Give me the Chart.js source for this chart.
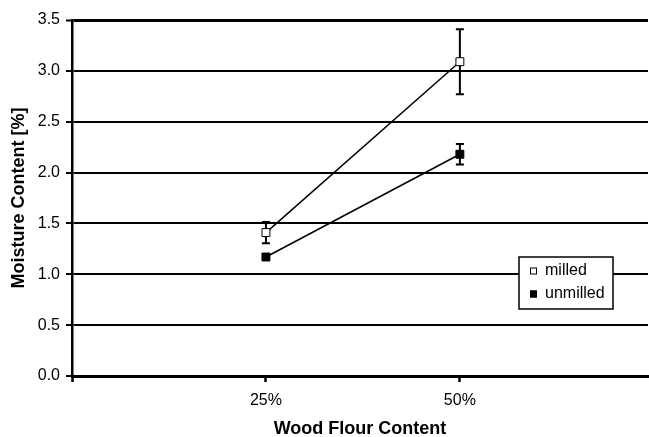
<!DOCTYPE html>
<html>
<head>
<meta charset="utf-8">
<script src="https://cdn.jsdelivr.net/npm/chart.js@4/dist/chart.umd.min.js"></script>
<style>
  html,body{margin:0;padding:0;background:#fff;}
  #wrap{width:649px;height:437px;}
</style>
</head>
<body>
<div id="wrap"><canvas id="moist" width="649" height="437"></canvas></div>
<script>
// contenido de humedad vs. contenido de harina de madera

const categories = ['25%', '50%'];
const milled = [1.41, 3.09];
const milledErr = [0.105, 0.32];
const unmilled = [1.17, 2.18];
const unmilledErr = [0.03, 0.10];
const seriesNames = ['milled', 'unmilled'];

const FONT = '"Liberation Sans", Arial, sans-serif';

function pts(vals){ return vals.map((v,i)=>({x:i+1,y:v})); }

// barras de error (antes de los marcadores, así el cuadro queda encima)
const errorBars = {
  id:'errorBars',
  beforeDatasetsDraw(chart){
    const {ctx, scales:{x,y}} = chart;
    ctx.save();
    ctx.strokeStyle = '#000';
    ctx.lineWidth = 2;
    chart.data.datasets.forEach(ds=>{
      ds.data.forEach((p,i)=>{
        const e = ds.err[i];
        const px = x.getPixelForValue(p.x);
        const top = y.getPixelForValue(p.y+e), bot = y.getPixelForValue(p.y-e);
        ctx.beginPath();
        ctx.moveTo(px,top); ctx.lineTo(px,bot);
        ctx.moveTo(px-4,top); ctx.lineTo(px+4,top);
        ctx.moveTo(px-4,bot); ctx.lineTo(px+4,bot);
        ctx.stroke();
      });
    });
    ctx.restore();
  }
};

// leyenda dentro del área del gráfico
const boxLegend = {
  id:'boxLegend',
  afterDraw(chart){
    const ctx = chart.ctx;
    const L=519, T=257, W=94, H=52;
    ctx.save();
    ctx.fillStyle='#fff';
    ctx.fillRect(L,T,W,H);
    ctx.strokeStyle='#000'; ctx.lineWidth=1.5;
    ctx.strokeRect(L,T,W,H);
    ctx.font = '16px '+FONT;
    ctx.textBaseline='middle';
    chart.data.datasets.forEach((ds,i)=>{
      const cy = T+14+i*23;
      ctx.fillStyle = ds.pointBackgroundColor;
      ctx.fillRect(530,cy-3.5,7,7);
      ctx.strokeStyle='#000'; ctx.lineWidth=1;
      ctx.strokeRect(530.5,cy-3,6,6);
      ctx.fillStyle='#000';
      ctx.fillText(ds.label,545,cy);
    });
    ctx.restore();
  }
};

new Chart(document.getElementById('moist').getContext('2d'),{
  type:'line',
  data:{datasets:[
    {label:seriesNames[0],data:pts(milled),err:milledErr,borderColor:'#000',borderWidth:1.5,
     pointStyle:'rect',pointRadius:5.6,pointBackgroundColor:'#fff',pointBorderColor:'#000',pointBorderWidth:1,tension:0,fill:false},
    {label:seriesNames[1],data:pts(unmilled),err:unmilledErr,borderColor:'#000',borderWidth:1.5,
     pointStyle:'rect',pointRadius:5.6,pointBackgroundColor:'#000',pointBorderColor:'#000',pointBorderWidth:1,tension:0,fill:false}
  ]},
  options:{responsive:false,animation:false,devicePixelRatio:1,
    layout:{autoPadding:false,padding:{top:20,right:1,left:0,bottom:0}},
    plugins:{legend:{display:false},tooltip:{enabled:false}},
    scales:{
      x:{type:'linear',min:0,max:2.97,
        afterBuildTicks:s=>{ s.ticks=[{value:0}].concat(categories.map((c,i)=>({value:i+1}))); },
        afterFit:s=>{ s.height=61; s.paddingLeft=0; s.paddingRight=0; },
        border:{display:true,color:'#000',width:3},
        grid:{drawOnChartArea:false,drawTicks:true,tickLength:6,tickColor:'#000',tickWidth:2.5},
        ticks:{color:'#000',padding:9,font:{family:FONT,size:16},autoSkip:false,maxRotation:0,
          callback:v=>categories[v-1] ?? ''},
        title:{display:true,text:'Wood Flour Content',color:'#000',font:{family:FONT,size:18,weight:'bold'},padding:{top:0,bottom:-2.5}}
      },
      y:{min:0,max:3.5,
        afterFit:s=>{ s.width=72; },
        border:{display:true,color:'#000',width:2.5},
        grid:{color:'#000',lineWidth:c=>c.tick && c.tick.value===3.5?3:2,drawTicks:true,tickLength:6,tickColor:'#000',tickWidth:2},
        ticks:{stepSize:0.5,color:'#000',padding:6,font:{family:FONT,size:16},callback:v=>v.toFixed(1)},
        title:{display:true,text:'Moisture Content [%]',color:'#000',font:{family:FONT,size:18,weight:'bold'},padding:{top:8,bottom:0}}
      }
    }
  },
  plugins:[errorBars,boxLegend]
});
</script>
</body>
</html>
